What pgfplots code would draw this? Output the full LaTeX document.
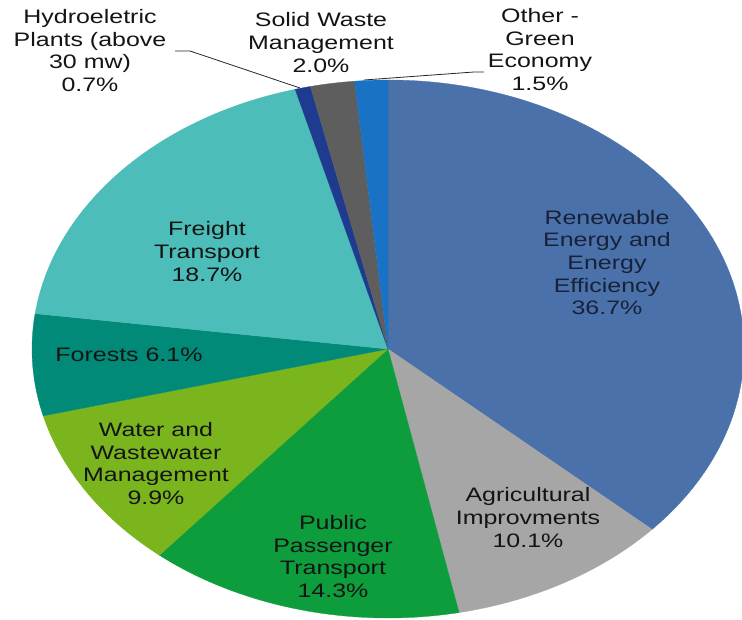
\documentclass[border=0pt]{standalone}
\usepackage{pgfplots}
\pgfplotsset{compat=1.18}
\usepackage{fontspec}
\setmainfont{Liberation Sans}
\usepackage{graphicx}

\definecolor{cRen}{HTML}{4A71A9}
\definecolor{cAgr}{HTML}{A6A6A6}
\definecolor{cPub}{HTML}{0D9D3C}
\definecolor{cWat}{HTML}{7AB51D}
\definecolor{cFor}{HTML}{008A77}
\definecolor{cFre}{HTML}{4CBDB8}
\definecolor{cHyd}{HTML}{1F3B8F}
\definecolor{cSol}{HTML}{5E5E5E}
\definecolor{cOth}{HTML}{1A72C4}
\definecolor{navytext}{HTML}{17223A}

% pie geometry (pixels of the reference, y measured upwards)
\def\pieCx{388}\def\pieCy{270}\def\pieRx{356}\def\pieRy{269}
\gdef\pieAcc{0}
\newcommand\slice[2]{% #1 colour, #2 percentage
  \pgfmathsetmacro\pieSa{90-3.6*\pieAcc}%
  \pgfmathsetmacro\pieSb{90-3.6*(\pieAcc+#2)}%
  \pgfmathsetmacro\pieX{\pieCx+\pieRx*cos(\pieSa)}%
  \pgfmathsetmacro\pieY{\pieCy+\pieRy*sin(\pieSa)}%
  \edef\doslice{\noexpand\addplot[fill=#1,draw=#1,line width=0.3pt] coordinates {(\pieCx,\pieCy) (\pieX,\pieY)} arc[start angle=\pieSa, end angle=\pieSb, x radius=\pieRx pt, y radius=\pieRy pt] -- cycle;}%
  \doslice
  \pgfmathsetmacro\pieTmp{\pieAcc+#2}\xdef\pieAcc{\pieTmp}%
}
\newcommand\lbl[2][black!92]{{\fontsize{19.5}{22.7}\selectfont\scalebox{1.28}[1]{\color{#1}\begin{tabular}{@{}c@{}}#2\end{tabular}}}}

\begin{document}
\begin{tikzpicture}
\path[use as bounding box] (0,0) rectangle (742pt,619pt);
\begin{axis}[x=1pt,y=1pt,xmin=0,xmax=742,ymin=0,ymax=619,
  hide axis, scale only axis, at={(0,0)}, anchor=south west]
\slice{cRen}{36.7}
\slice{cAgr}{10.1}
\slice{cPub}{14.3}
\slice{cWat}{9.9}
\slice{cFor}{6.1}
\slice{cFre}{18.7}
\slice{cHyd}{0.7}
\slice{cSol}{2.0}
\slice{cOth}{1.5}

\draw[black!85, line width=0.8pt] (175,568) -- (190,568) -- (300,531);
\draw[black!85, line width=0.8pt] (484,547) -- (474,547) -- (364,539);

\node[inner sep=0pt] at (607,354) {\lbl[navytext]{Renewable\\Energy and\\Energy\\Efficiency\\36.7\%}};
\node[inner sep=0pt] at (528,99) {\lbl{Agricultural\\Improvments\\10.1\%}};
\node[inner sep=0pt] at (333,60) {\lbl{Public\\Passenger\\Transport\\14.3\%}};
\node[inner sep=0pt] at (156,153) {\lbl{Water and\\Wastewater\\Management\\9.9\%}};
\node[inner sep=0pt] at (129,262) {\lbl{Forests 6.1\%}};
\node[inner sep=0pt] at (207,365) {\lbl{Freight\\Transport\\18.7\%}};
\node[inner sep=0pt] at (90,566) {\lbl{Hydroeletric\\Plants (above\\30 mw)\\0.7\%}};
\node[inner sep=0pt] at (321,574) {\lbl{Solid Waste\\Management\\2.0\%}};
\node[inner sep=0pt] at (540,567) {\lbl{Other -\\Green\\Economy\\1.5\%}};
\end{axis}
\end{tikzpicture}
\end{document}
